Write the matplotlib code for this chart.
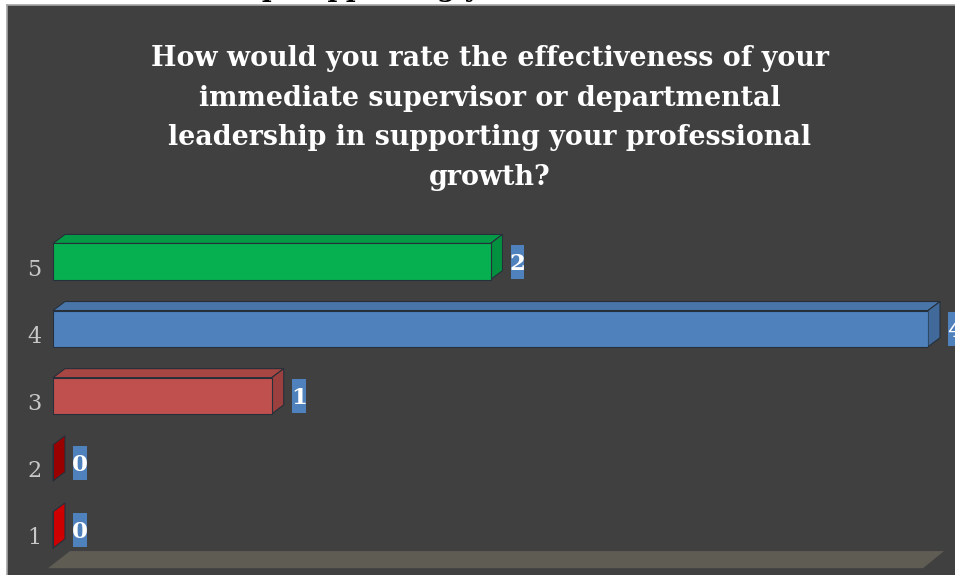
import matplotlib
matplotlib.use("Agg")
import matplotlib.pyplot as plt
from matplotlib.patches import Rectangle, Polygon
from matplotlib.transforms import ScaledTranslation
import numpy as np

# Survey data: rating -> number of responses
ratings = [1, 2, 3, 4, 5]
counts = [0, 0, 1, 4, 2]
tick_labels = ["1", "2", "3", "4", "5"]
title = ("How would you rate the effectiveness of your\n"
         "immediate supervisor or departmental\n"
         "leadership in supporting your professional\n"
         "growth?")
heading = "Leadership Supporting your Professional Growth"

# per-bar colours: (front, top, side)
bar_colors = [
    ("#cc0000", "#b00000", "#cf0000"),
    ("#990000", "#880000", "#9a0000"),
    ("#c0504d", "#a84644", "#9b403e"),
    ("#4f81bd", "#4a75a9", "#41699a"),
    ("#06b050", "#049a46", "#03903f"),
]
edge = "#26303a"
bg = "#404040"
label_box = "#4f81bd"
serif = ["DejaVu Serif"]

W, H = 955, 575
fig = plt.figure(figsize=(W / 100, H / 100), dpi=100)
fig.patch.set_facecolor("white")

# heading of the page, mostly cut off at the top edge
fig.text(0.50, 1 + 2.5 / H, heading, ha="center", va="baseline",
         color="black", fontsize=19, fontweight="bold", family=serif,
         zorder=0.5)

# dark chart panel with a light frame on top and left
panel = Rectangle((7 / W, 0), 1 - 7 / W, 1 - 5 / H, transform=fig.transFigure,
                  facecolor=bg, edgecolor="none", zorder=1)
fig.patches.append(panel)
fig.lines.append(plt.Line2D([6.5 / W, 1], [1 - 4.5 / H] * 2,
                            transform=fig.transFigure, color="#a6a6a6",
                            lw=1.2, zorder=1.1))
fig.lines.append(plt.Line2D([6.5 / W] * 2, [0, 1 - 4.5 / H],
                            transform=fig.transFigure, color="#a6a6a6",
                            lw=1.2, zorder=1.1))

fig.text(0.513, 1 - 45 / H, title, ha="center", va="top", color="white",
         fontsize=19.4, fontweight="bold", family=serif, linespacing=1.6,
         zorder=3)

ax = fig.add_axes([53 / W, 11.5 / H, 875 / W, 335.5 / H])
ax.set_facecolor("none")
ax.set_zorder(2)
ax.set_xlim(0, 4)
ax.set_ylim(0.5, 5.5)
for s in ax.spines.values():
    s.set_visible(False)
ax.set_xticks([])
ax.set_yticks(ratings)
ax.set_yticklabels(tick_labels, color="#c8c8c8", fontsize=16, family=serif)
ax.tick_params(axis="y", length=0, pad=8.5)
for lab in ax.get_yticklabels():
    lab.set_transform(lab.get_transform()
                      + ScaledTranslation(0, -6 / 100, fig.dpi_scale_trans))

bar_h = 0.54
dx, dy = 12, 9  # depth of the 3-D faces, in pixels

fig.canvas.draw()
to_disp = ax.transData.transform
to_data = ax.transData.inverted().transform


def shifted(pts):
    d = to_disp(np.asarray(pts, float))
    d[:, 0] += dx
    d[:, 1] += dy
    return to_data(d)


# floor under the bars
floor_front = to_disp([[0, 0.43], [4, 0.43]])
floor_back = to_disp([[0, 0.685], [4, 0.685]])
fl = np.array([floor_front[0] + [-5, 0], floor_front[1] + [-5, 0],
               floor_back[1] + [16, 0], floor_back[0] + [17, 0]])
ax.add_patch(Polygon(to_data(fl), closed=True, facecolor="#5f5c54",
                     edgecolor="none", clip_on=False, zorder=1))

bars = ax.barh(ratings, counts, height=bar_h, left=0, zorder=3,
               edgecolor=edge, linewidth=0.8)

for rect, r, v, (front, top, side) in zip(bars, ratings, counts, bar_colors):
    rect.set_facecolor(front)
    y0, y1 = r - bar_h / 2, r + bar_h / 2
    if v > 0:
        top_pts = [[0, y1], [v, y1]]
        tp = np.vstack([top_pts, shifted(top_pts)[::-1]])
        ax.add_patch(Polygon(tp, closed=True, facecolor=top, edgecolor=edge,
                             linewidth=0.8, zorder=2.5, clip_on=False))
    side_pts = [[v, y0], [v, y1]]
    sp = np.vstack([side_pts, shifted(side_pts)[::-1]])
    ax.add_patch(Polygon(sp, closed=True, facecolor=side, edgecolor=edge,
                         linewidth=0.8, zorder=2.6, clip_on=False))

    # value label in a small blue box
    cx, cy = to_disp([[v, r]])[0]
    bw, bh = 14, 34
    left = cx + dx + 8
    box = to_data(np.array([[left, cy - bh / 2], [left + bw, cy + bh / 2]]))
    ax.add_patch(Rectangle(box[0], box[1][0] - box[0][0], box[1][1] - box[0][1],
                           facecolor=label_box, edgecolor="none", zorder=4,
                           clip_on=False))
    tx = to_data(np.array([[left + bw / 2, cy]]))[0]
    ax.text(tx[0], tx[1], str(v), ha="center", va="center_baseline",
            color="white", fontsize=16.5, fontweight="bold", family=serif,
            zorder=5, clip_on=False)

fig.savefig("out.png", dpi=100, facecolor=fig.get_facecolor())
